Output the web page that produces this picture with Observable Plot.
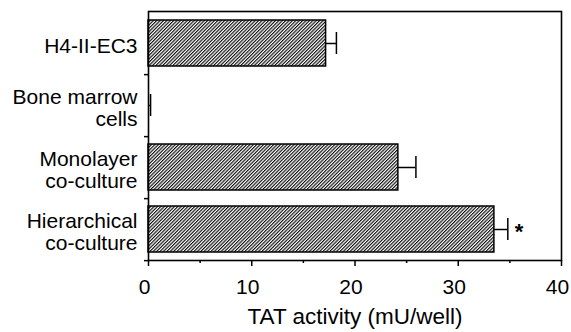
<!DOCTYPE html>
<html>
<head>
<meta charset="utf-8">
<script src="https://cdn.jsdelivr.net/npm/d3@7"></script>
<script src="https://cdn.jsdelivr.net/npm/@observablehq/plot@0.6"></script>
<style>
  html, body { margin: 0; padding: 0; background: #fff; }
  #chart svg { display: block; }
</style>
</head>
<body>
<div id="chart"></div>
<script>
const categories = ["H4-II-EC3", "Bone marrow\ncells", "Monolayer\nco-culture", "Hierarchical\nco-culture"];
const values = [17.2, 0, 24.2, 33.5];
const errors = [1.0, 0.2, 1.7, 1.3];
const significant = [false, false, false, true];
const majorTicks = [0, 10, 20, 30, 40];
const minorTicks = [5, 15, 25, 35];
const xLabel = "TAT activity (mU/well)";

const data = categories.map((c, i) => ({cat: c, value: values[i], err: errors[i], top: values[i] + errors[i], sig: significant[i]}));

const W = 571, H = 332, mT = 11, mB = 72, mL = 148, mR = 10;
const step = (H - mT - mB) / categories.length;
const font = "'Liberation Sans', Arial, Helvetica, sans-serif";

const chart = Plot.plot({
  width: W,
  height: H,
  marginTop: mT,
  marginBottom: mB,
  marginLeft: mL,
  marginRight: mR,
  style: {fontFamily: font, fontSize: "20px", color: "#000", background: "#fff", overflow: "visible"},
  x: {domain: [0, 40]},
  y: {domain: categories, paddingInner: 0.26, paddingOuter: 0.13},
  marks: [
    Plot.barX(data, {y: "cat", x: "value", fill: "url(#hatch)", stroke: "#000", strokeWidth: 1.5}),
    Plot.ruleY(data, {y: "cat", x1: "value", x2: "top", stroke: "#000", strokeWidth: 1.5}),
    Plot.tickX(data, {y: "cat", x: "top", stroke: "#000", strokeWidth: 1.5, insetTop: 12, insetBottom: 12}),
    Plot.text(data.filter(d => d.sig), {y: "cat", x: "top", text: () => "*", dx: 7, dy: 2, fontSize: 22, fontWeight: "bold", textAnchor: "start"}),
    Plot.frame({stroke: "#000", strokeWidth: 1.6}),
    Plot.axisY({tickSize: 0, tickPadding: 11, fontSize: 21, lineHeight: 1.05, dy: 2, label: null}),
    Plot.axisY({tickSize: 4, tickFormat: () => "", dy: step / 2, label: null, strokeWidth: 1.5}),
    Plot.axisX({ticks: majorTicks, tickSize: 6, tickFormat: () => "", label: null, strokeWidth: 1.5}),
    Plot.axisX({ticks: majorTicks, tickSize: 0, tickPadding: 19, fontSize: 21, dx: -4, label: null}),
    Plot.axisX({ticks: minorTicks, tickSize: 3, tickFormat: () => "", label: null, strokeWidth: 1.5}),
    Plot.text([xLabel], {frameAnchor: "bottom", dy: 56, fontSize: 22.5, lineAnchor: "middle", text: d => d})
  ]
});

const svg = d3.select(chart);
const defs = svg.insert("defs", ":first-child");
const pat = defs.append("pattern")
  .attr("id", "hatch")
  .attr("patternUnits", "userSpaceOnUse")
  .attr("width", 2.4)
  .attr("height", 2.4)
  .attr("patternTransform", "rotate(45)");
pat.append("rect").attr("width", 2.4).attr("height", 2.4).attr("fill", "#fff");
pat.append("line").attr("x1", 0.6).attr("y1", 0).attr("x2", 0.6).attr("y2", 2.4).attr("stroke", "#000").attr("stroke-width", 1.1);

document.getElementById("chart").appendChild(chart);
</script>
</body>
</html>
